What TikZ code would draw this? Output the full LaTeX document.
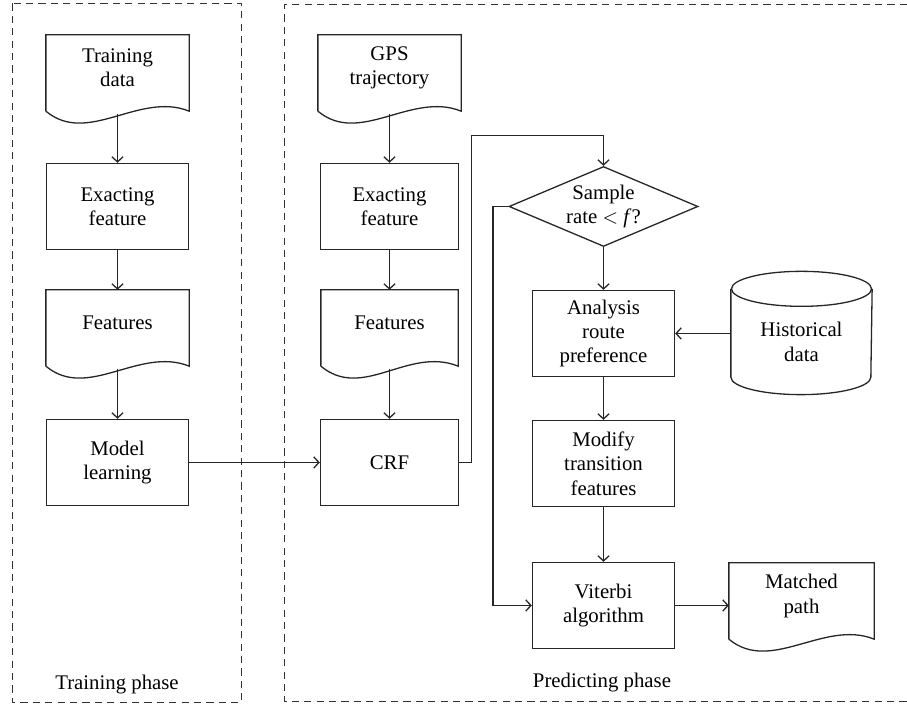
\documentclass[tikz,border=0pt]{standalone}
\usepackage{fontspec}
\setmainfont{Liberation Serif}
\usetikzlibrary{shapes.geometric, arrows.meta, positioning}

% document outline with a wavy lower edge, and the point where a connector leaves it
\newcommand{\docoutline}[1]{%
  \draw[outline] ([yshift=-5pt]#1.south west) -- (#1.north west) -- (#1.north east) -- ([yshift=-5pt]#1.south east)
    .. controls ([xshift=-25pt,yshift=5pt]#1.south east) and ([xshift=21pt,yshift=-22.5pt]#1.south west)
    .. ([yshift=-5pt]#1.south west);
  \coordinate (#1-out) at ([yshift=-6.5pt]#1.south);}

\begin{document}
\begin{tikzpicture}[x=0.5pt, y=0.5pt, line width=0.65pt, font=\fontsize{10.4}{12.2}\selectfont]

% Define styles
\tikzstyle{outline} = [draw=black!85]
\tikzstyle{block} = [rectangle, draw=black!85, minimum width=71pt, minimum height=43pt, align=center, inner sep=1pt]
\tikzstyle{doc} = [rectangle, minimum width=71pt, minimum height=32.5pt, align=center, inner sep=1pt]
\tikzstyle{decision} = [diamond, draw=black!85, aspect=2.36, minimum width=94.5pt, minimum height=40pt, inner sep=0pt, align=center]
\tikzstyle{store} = [rectangle, minimum width=70pt, minimum height=52.25pt, align=center, inner sep=1pt]
\tikzstyle{line} = [draw=black!85, -{Straight Barb[length=2.6pt,width=5.6pt]}]
\tikzstyle{phase} = [draw=black!80, dash pattern=on 3.6pt off 2.6pt]

\useasboundingbox (0,0) rectangle (907,705);

% Phase frames
\draw [phase] (12.5,701.5) rectangle (241.5,2.5);
\draw [phase] (907,700.5) -- (284.5,700.5) -- (284.5,3.5) -- (907,3.5);
\node (trainphase) at (117,20) {Training phase};
\node (predphase) at (602,22) {Predicting phase};

% Training phase
\node [doc] (train) at (117.5,637) {Training\\data};
\node [block] (exfeat1) at (117.5,498.5) {Exacting\\feature};
\node [doc] (feat1) at (117.5,382) {Features};
\node [block] (model) at (117.5,242.5) {Model\\learning};

% Predicting phase
\node [doc] (gps) at (389.5,637) {GPS\\trajectory};
\node [block, minimum width=69pt] (exfeat2) at (389.5,498.5) {Exacting\\feature};
\node [doc, minimum width=68pt] (feat2) at (389.5,382) {Features};
\node [block, minimum width=69pt] (crf) at (389.5,242.5) {CRF};
\node [decision] (rate) at (603.5,498.5) {Sample\\rate $<$ \textit{f}?};
\node [block] (analysis) at (603.5,371.5) {Analysis\\route\\preference};
\node [store] (hist) at (801.5,363.25) {Historical\\data};
\node [block] (modify) at (603.5,241.5) {Modify\\transition\\features};
\node [block] (viterbi) at (603.5,99.5) {Viterbi\\algorithm};
\node [doc, minimum width=72pt] (matched) at (801.5,109) {Matched\\path};

% Document and storage outlines
\docoutline{train}
\docoutline{feat1}
\docoutline{gps}
\docoutline{feat2}
\docoutline{matched}
\draw [outline] (hist.north) ellipse [x radius=35pt, y radius=8.75pt];
\draw [outline] (hist.north west) -- ([yshift=8.75pt]hist.south west)
  arc [start angle=180, end angle=360, x radius=35pt, y radius=8.75pt] -- (hist.north east);

% Draw edges
\path [line] (train-out) -- (exfeat1);
\path [line] (exfeat1) -- (feat1);
\path [line] (feat1-out) -- (model);
\path [line] (model) -- (crf);
\path [line] (gps-out) -- (exfeat2);
\path [line] (exfeat2) -- (feat2);
\path [line] (feat2-out) -- (crf);
\path [line] (crf.east) -- ++(6pt,0) |- ([yshift=15pt]rate.north) -- (rate.north);
\path [line] (rate.west) -- ++(-7.75pt,0) |- (viterbi.west);
\path [line] (rate) -- (analysis);
\path [line] (analysis -| hist.west) -- (analysis.east);
\path [line] (analysis) -- (modify);
\path [line] (modify) -- (viterbi);
\path [line] (viterbi.east) -- (viterbi.east -| matched.west);

\end{tikzpicture}
\end{document}
